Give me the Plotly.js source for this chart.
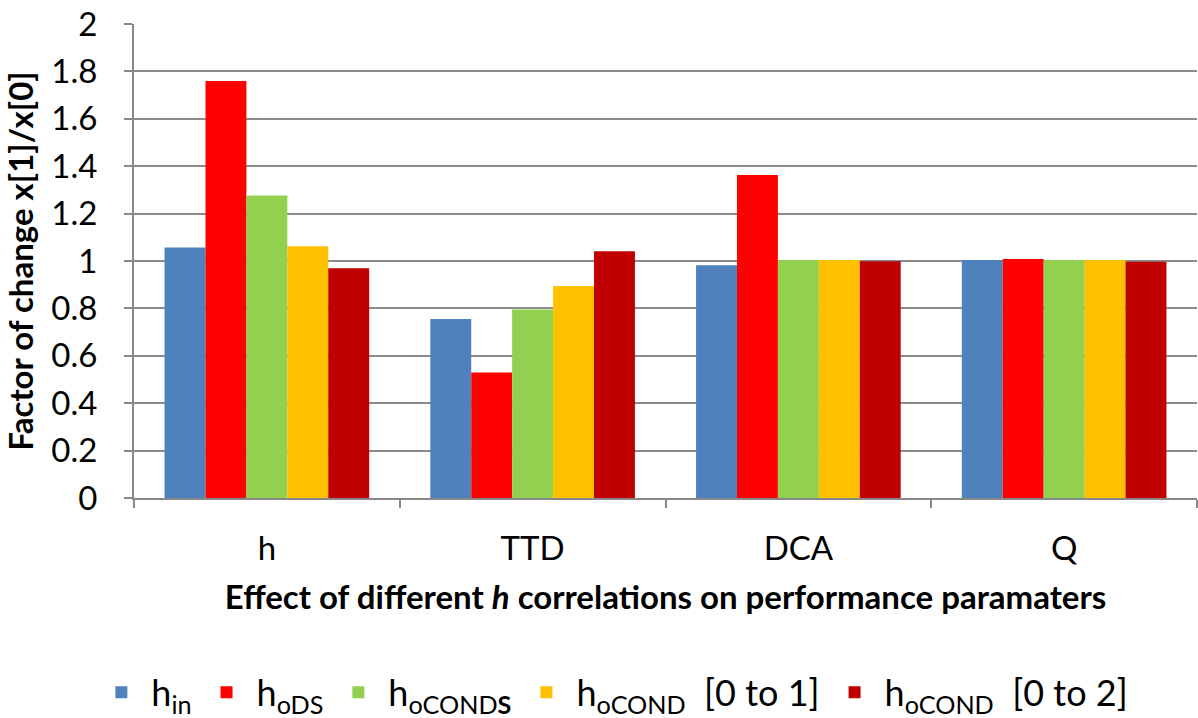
<!DOCTYPE html>
<html>
<head>
<meta charset="utf-8">
<script src="https://cdn.plot.ly/plotly-3.0.1.min.js"></script>
<style>html,body{margin:0;padding:0;background:#fff;}#chart{width:1198px;height:718px;}</style>
</head>
<body>
<div id="chart"></div>
<script>
const categories = ["h", "TTD", "DCA", "Q"];
const seriesNames = [
  "h<sub>in</sub>",
  "h<sub>oDS</sub>",
  "h<sub>oCOND<b>S</b></sub>",
  "h<sub>oCOND</sub>  [0 to 1]",
  "h<sub>oCOND</sub>  [0 to 2]"
];
const hIn        = [1.057, 0.755, 0.982, 1.004];
const hODS       = [1.759, 0.530, 1.363, 1.008];
const hOCONDS    = [1.276, 0.795, 1.004, 1.004];
const hOCOND01   = [1.062, 0.895, 1.004, 1.004];
const hOCOND02   = [0.969, 1.041, 0.999, 0.997];
const seriesValues = [hIn, hODS, hOCONDS, hOCOND01, hOCOND02];
const seriesColors = ["#4F81BD", "#FF0000", "#92D050", "#FFC000", "#C00000"];

const FONT = "Lato, 'Open Sans', sans-serif";
const traces = seriesValues.map((vals, i) => ({
  type: "bar",
  name: seriesNames[i],
  x: categories,
  y: vals,
  marker: {color: seriesColors[i], line: {width: 0}},
  hoverinfo: "x+y"
}));

const layout = {
  width: 1198, height: 718,
  margin: {l: 134, r: 1, t: 24, b: 220, autoexpand: false},
  paper_bgcolor: "#fff", plot_bgcolor: "#fff",
  barmode: "group",
  bargap: 0.23, bargroupgap: 0,
  font: {family: FONT, color: "#000", size: 33},
  xaxis: {
    type: "category",
    showline: true, linecolor: "#888", linewidth: 2,
    ticks: "outside", tickson: "boundaries", ticklen: 8, tickcolor: "#888", tickwidth: 2,
    tickfont: {size: 33, family: FONT},
    ticklabelstandoff: 20,
    showgrid: false, automargin: false,
    title: {text: "<b>Effect of different <i>h</i> correlations on performance paramaters</b>",
            font: {size: 33, family: FONT}, standoff: 20}
  },
  yaxis: {
    range: [0, 2], dtick: 0.2, tick0: 0,
    showline: true, linecolor: "#888", linewidth: 2,
    ticks: "outside", ticklen: 8, tickcolor: "#888", tickwidth: 2,
    showgrid: true, gridcolor: "#8c8c8c", gridwidth: 2,
    zeroline: false, automargin: false,
    tickfont: {size: 33, family: FONT},
    ticklabelstandoff: 20,
    title: {text: "<b>Factor of change x[1]/x[0]</b>", font: {size: 33, family: FONT}, standoff: 8}
  },
  legend: {
    orientation: "h", x: 0.45, xanchor: "center", xref: "paper",
    y: -0.41, yanchor: "middle",
    font: {size: 36, family: FONT},
    itemsizing: "constant", traceorder: "normal",
    itemwidth: 50
  },
  showlegend: true
};

Plotly.newPlot("chart", traces, layout, {displayModeBar: false, staticPlot: true});
</script>
</body>
</html>
